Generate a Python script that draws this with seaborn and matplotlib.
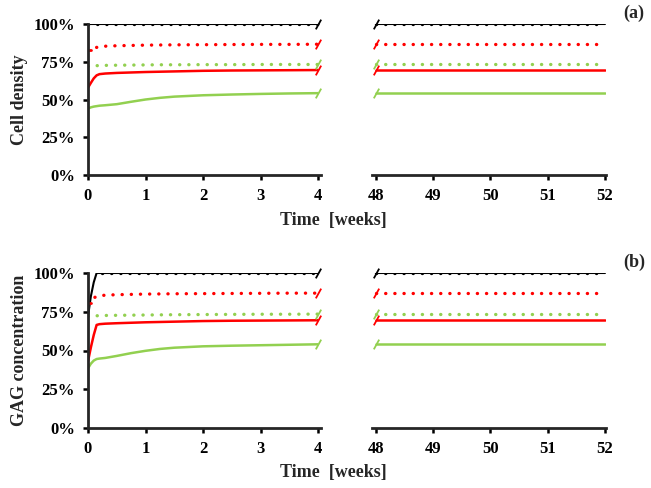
import numpy as np
import pandas as pd
import matplotlib
matplotlib.use("Agg")
import matplotlib.pyplot as plt
import seaborn as sns
from matplotlib.ticker import PercentFormatter, FixedLocator
from matplotlib.path import Path

# ---------------- data ----------------
# early period (weeks)
t_early = [0, 0.05, 0.1, 0.15, 0.2, 0.3, 0.5, 0.75, 1, 1.25, 1.5, 2, 2.5, 3, 3.5, 4]
t_late = [48, 52]

# (a) Cell density [%]
a_black = [100] * 16
a_red_dot = [82.5, 83.5, 84.0, 84.5, 85.0, 85.3, 85.6, 85.8, 86.0, 86.1, 86.2, 86.3, 86.4, 86.5, 86.5, 86.6]
a_green_dot = [72.0, 72.2, 72.3, 72.4, 72.5, 72.6, 72.7, 72.8, 72.9, 73.0, 73.0, 73.1, 73.1, 73.2, 73.2, 73.2]
a_red = [57.8, 61.0, 64.0, 66.0, 66.8, 67.2, 67.6, 67.9, 68.2, 68.4, 68.6, 69.0, 69.2, 69.3, 69.4, 69.5]
a_green = [44.0, 44.8, 45.3, 45.6, 45.9, 46.2, 46.9, 48.5, 50.0, 51.1, 51.9, 52.8, 53.3, 53.7, 54.0, 54.2]

# (b) GAG concentration [%]
b_black = [72, 85, 94, 100, 100, 100, 100, 100, 100, 100, 100, 100, 100, 100, 100, 100]
t_b_black_dot = [0.25, 4]
b_black_dot = [100, 100]
b_red_dot = [80.5, 82.5, 84.0, 84.8, 85.3, 85.7, 86.0, 86.2, 86.4, 86.5, 86.6, 86.7, 86.8, 86.9, 87.0, 87.0]
b_green_dot = [72.0, 72.2, 72.3, 72.4, 72.5, 72.6, 72.7, 72.8, 72.9, 73.0, 73.1, 73.2, 73.3, 73.4, 73.4, 73.5]
b_red = [43.0, 52.0, 60.0, 66.5, 67.0, 67.3, 67.6, 67.9, 68.2, 68.4, 68.6, 69.0, 69.2, 69.3, 69.4, 69.5]
b_green = [38.5, 41.5, 43.5, 44.5, 44.8, 45.2, 46.5, 48.3, 49.8, 51.0, 51.8, 52.7, 53.1, 53.4, 53.7, 54.0]

yticks = [0, 25, 50, 75, 100]
xticks_early = [0, 1, 2, 3, 4]
xticks_late = [48, 49, 50, 51, 52]
ylabels = ["Cell density", "GAG concentration"]
panel_tags = ["(a)", "(b)"]
xlabel = "Time  [weeks]"

RED = "#ff0000"
GREEN = "#92d050"
BLACK = "#000000"

# ---------------- style ----------------
sns.set_theme(style="ticks")
plt.rcParams["font.family"] = ["Liberation Serif", "DejaVu Serif"]
plt.rcParams["font.weight"] = "bold"

fig = plt.figure(figsize=(6.51, 4.88), dpi=100)
W, H = 651, 488

def ax_rect(x0, x1, ytop, ybot):
    return [x0 / W, 1 - ybot / H, (x1 - x0) / W, (ybot - ytop) / H]

slash = Path([(-0.55, -1.0), (0.55, 1.0)], [Path.MOVETO, Path.LINETO])
dot_ls = (0, (0.05, 2.7))

panels = [
    dict(ytop=24, ybot=175, black=a_black, black_dot_t=t_early, black_dot=a_black,
         red_dot=a_red_dot, green_dot=a_green_dot, red=a_red, green=a_green),
    dict(ytop=273, ybot=428, black=b_black, black_dot_t=t_b_black_dot, black_dot=b_black_dot,
         red_dot=b_red_dot, green_dot=b_green_dot, red=b_red, green=b_green),
]

for i, p in enumerate(panels):
    axL = fig.add_axes(ax_rect(88, 321, p["ytop"], p["ybot"]))
    axR = fig.add_axes(ax_rect(372, 606, p["ytop"], p["ybot"]))

    series = [
        ("black", p["black"], BLACK, "-", 1.5),
        ("green", p["green"], GREEN, "-", 1.8),
        ("red", p["red"], RED, "-", 1.8),
        ("green_dot", p["green_dot"], GREEN, dot_ls, 2.4),
        ("red_dot", p["red_dot"], RED, dot_ls, 2.4),
    ]
    for name, vals, col, ls, lw in series:
        sns.lineplot(x=t_early, y=vals, ax=axL, color=col, lw=lw, linestyle=ls,
                     dash_capstyle="round", solid_capstyle="butt")
        sns.lineplot(x=t_late, y=[vals[-1], vals[-1]], ax=axR, color=col, lw=lw,
                     linestyle=ls, dash_capstyle="round")
        axL.plot(t_early[-1:], vals[-1:], marker=slash, ls="none", ms=7, mew=1.3,
                 color=col, clip_on=False)
        axR.plot(t_late[:1], vals[-1:], marker=slash, ls="none", ms=7, mew=1.3,
                 color=col, clip_on=False)
    # red dotted: short solid start piece at t=0
    sns.lineplot(x=t_early[:2], y=[p["red_dot"][0], p["red_dot"][0]], ax=axL,
                 color=RED, lw=2.0)
    # black dotted overlay
    sns.lineplot(x=p["black_dot_t"], y=p["black_dot"], ax=axL, color=BLACK, lw=2.4,
                 linestyle=dot_ls, dash_capstyle="round")
    sns.lineplot(x=t_late, y=[100, 100], ax=axR, color=BLACK, lw=2.4,
                 linestyle=dot_ls, dash_capstyle="round")

    for ax in (axL, axR):
        ax.set_ylim(0, 100)
        for s in ("top", "right"):
            ax.spines[s].set_visible(False)
        ax.spines["bottom"].set_linewidth(2.0)
        ax.spines["left"].set_linewidth(2.0)
        ax.tick_params(axis="both", direction="out", length=3.5, width=1.8,
                       labelsize=12, colors="black")
        ax.tick_params(axis="x", pad=6)
        ax.tick_params(axis="y", pad=6)
        ax.set_facecolor("none")
        ax.set_xlabel("")
        ax.set_ylabel("")

    axL.set_xlim(0, 4.05)
    axL.xaxis.set_major_locator(FixedLocator(xticks_early))
    axL.yaxis.set_major_locator(FixedLocator(yticks))
    axL.yaxis.set_major_formatter(PercentFormatter(100, decimals=0))
    axL.set_ylabel(ylabels[i], fontsize=13, fontweight="bold", labelpad=4)
    for lab in axL.get_xticklabels() + axL.get_yticklabels():
        lab.set_fontweight("bold")

    axR.set_xlim(47.93, 52.02)
    axR.xaxis.set_major_locator(FixedLocator(xticks_late))
    axR.spines["left"].set_visible(False)
    axR.set_yticks([])
    for lab in axR.get_xticklabels():
        lab.set_fontweight("bold")

    ylab_y = 1 - (p["ybot"] + 45) / H
    fig.text(333 / W, ylab_y, xlabel, ha="center", va="center", fontsize=13, fontweight="bold")
    fig.text(634 / W, 1 - (p["ytop"] - 11) / H, panel_tags[i], ha="center", va="center",
             fontsize=13, fontweight="bold")

fig.savefig("out.png", dpi=100)
